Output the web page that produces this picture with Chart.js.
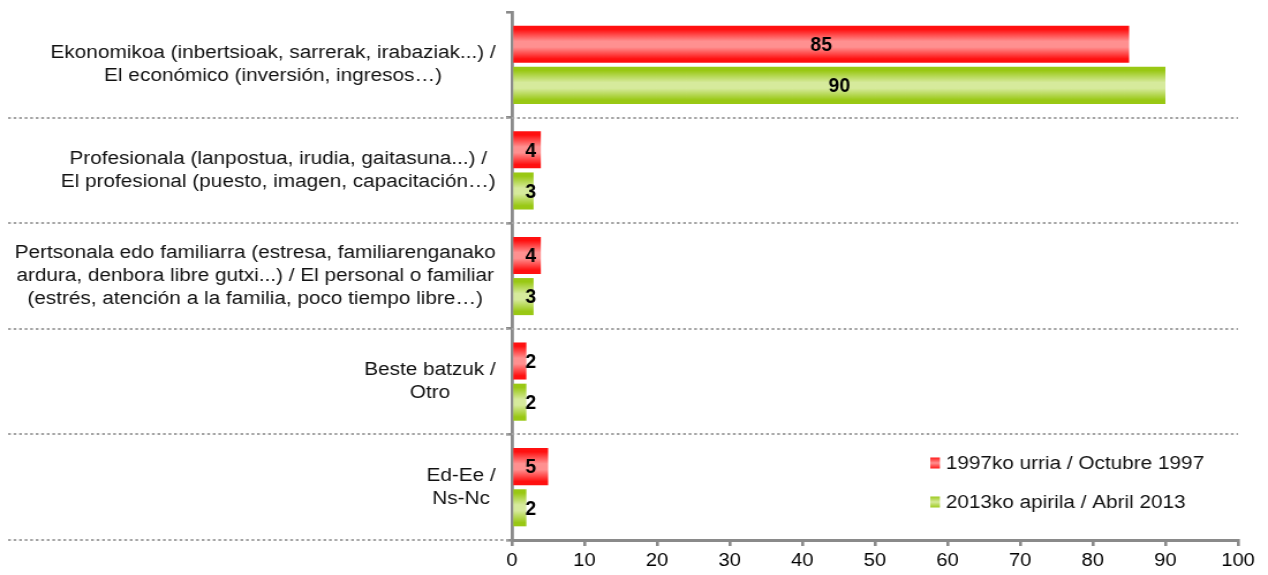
<!DOCTYPE html>
<html><head><meta charset="utf-8">
<script src="https://cdn.jsdelivr.net/npm/chart.js@4.4.0/dist/chart.umd.min.js"></script>
<style>
html,body{margin:0;padding:0;background:#fff;overflow:hidden}
</style>
</head><body>
<canvas id="c" width="1100" height="575" style="display:block;width:1268px;height:575px"></canvas>
<script>
// ---- data ----
const categories = [
  ["Ekonomikoa (inbertsioak, sarrerak, irabaziak...) /", "El económico (inversión, ingresos…)"],
  ["Profesionala (lanpostua, irudia, gaitasuna...) /", "El profesional (puesto, imagen, capacitación…)"],
  ["Pertsonala edo familiarra (estresa, familiarenganako", "ardura, denbora libre gutxi...) / El personal o familiar", "(estrés, atención a la familia, poco tiempo libre…)"],
  ["Beste batzuk /", "Otro"],
  ["Ed-Ee /", "Ns-Nc"]
];
const seriesNames = ["1997ko urria / Octubre 1997", "2013ko apirila / Abril 2013"];
const values1997 = [85, 4, 4, 2, 5];
const values2013 = [90, 3, 3, 2, 2];
const xMin = 0, xMax = 100, xStep = 10;

// ---- style ----
const FONT = "'Liberation Sans', Arial, Helvetica, sans-serif";
const CAT_PCT = 0.78, BAR_PCT = 0.9;
const PALETTE = [
  {dark: '#ff1010', light: '#ff9090'},
  {dark: '#99c814', light: '#d6ea9c'}
];
const AXIS_GRAY = '#8a8a8a';

function barGradient(ctx) {
  const chart = ctx.chart;
  const pal = PALETTE[ctx.datasetIndex] || PALETTE[0];
  const ys = chart.scales && chart.scales.y;
  if (!chart.chartArea || !ys || ctx.dataIndex === undefined || ys.ticks.length < 2) return pal.dark;
  const c = ys.getPixelForValue(ctx.dataIndex);
  const band = Math.abs(ys.getPixelForValue(1) - ys.getPixelForValue(0));
  const group = band * CAT_PCT;
  const slot = group / 2;
  const h = slot * BAR_PCT;
  const center = c - group / 2 + slot * (ctx.datasetIndex + 0.5);
  const top = center - h / 2;
  const g = chart.ctx.createLinearGradient(0, top, 0, top + h);
  g.addColorStop(0, pal.dark);
  g.addColorStop(0.1, pal.dark);
  g.addColorStop(0.42, pal.light);
  g.addColorStop(0.58, pal.light);
  g.addColorStop(0.9, pal.dark);
  g.addColorStop(1, pal.dark);
  return g;
}

const dottedLines = {
  id: 'dottedLines',
  beforeDatasetsDraw(chart) {
    const ys = chart.scales.y, area = chart.chartArea, c = chart.ctx;
    c.save();
    c.strokeStyle = '#a3a3a3';
    c.lineWidth = 2.2;
    c.setLineDash([2.4, 2.4]);
    for (let i = 0; i < categories.length; i++) {
      const y = Math.round(ys.getPixelForValue(i + 0.5)) ;
      const xEnd = i === categories.length - 1 ? area.left : area.right;
      c.beginPath();
      c.moveTo(7, y);
      c.lineTo(xEnd, y);
      c.stroke();
    }
    c.restore();
  }
};

const categoryLabels = {
  id: 'categoryLabels',
  afterDraw(chart) {
    const ys = chart.scales.y, area = chart.chartArea, c = chart.ctx;
    c.save();
    c.font = '18px ' + FONT;
    c.fillStyle = '#111';
    c.textAlign = 'center';
    c.textBaseline = 'middle';
    const right = area.left - 14;
    const lh = 23;
    categories.forEach((lines, i) => {
      const w = Math.max(...lines.map(l => c.measureText(l).width));
      const cx = right - w / 2;
      const cy = ys.getPixelForValue(i);
      const y0 = cy - (lines.length - 1) * lh / 2;
      lines.forEach((l, k) => c.fillText(l, cx, y0 + k * lh));
    });
    c.restore();
  }
};

const valueLabels = {
  id: 'valueLabels',
  afterDatasetsDraw(chart) {
    const c = chart.ctx;
    const sx = 0.8;
    c.save();
    c.font = 'bold 21px ' + FONT;
    c.fillStyle = '#000';
    c.textAlign = 'center';
    c.textBaseline = 'middle';
    chart.data.datasets.forEach((ds, di) => {
      const meta = chart.getDatasetMeta(di);
      meta.data.forEach((bar, i) => {
        const v = ds.data[i];
        const x = Math.max((bar.x + bar.base) / 2, bar.base + 15);
        c.save();
        c.translate(x, bar.y + 1);
        c.scale(sx, 1);
        c.fillText(String(v), 0, 0);
        c.restore();
      });
    });
    c.restore();
  }
};

const insideLegend = {
  id: 'insideLegend',
  afterDraw(chart) {
    const c = chart.ctx;
    c.save();
    c.font = '18px ' + FONT;
    c.fillStyle = '#111';
    c.textAlign = 'left';
    c.textBaseline = 'middle';
    const x0 = 807, ys = [463, 502];
    chart.data.datasets.forEach((ds, di) => {
      const pal = PALETTE[di];
      const y = ys[di];
      const g = c.createLinearGradient(0, y - 6, 0, y + 6);
      g.addColorStop(0, pal.dark); g.addColorStop(0.5, pal.light); g.addColorStop(1, pal.dark);
      c.fillStyle = g;
      c.fillRect(x0, y - 5.5, 8.4, 11);
      c.fillStyle = '#111';
      c.fillText(ds.label, x0 + 13.5, y + 1);
    });
    c.restore();
  }
};

new Chart(document.getElementById('c'), {
  type: 'bar',
  data: {
    labels: categories,
    datasets: [
      {label: seriesNames[0], data: values1997, backgroundColor: barGradient},
      {label: seriesNames[1], data: values2013, backgroundColor: barGradient}
    ]
  },
  options: {
    indexAxis: 'y',
    responsive: false,
    animation: false,
    devicePixelRatio: 1,
    categoryPercentage: CAT_PCT,
    barPercentage: BAR_PCT,
    layout: {padding: {top: 12, right: 26, left: 0, bottom: 0}},
    plugins: {legend: {display: false}, tooltip: {enabled: false}},
    scales: {
      x: {
        min: xMin, max: xMax,
        ticks: {stepSize: xStep, color: '#000', font: {family: FONT, size: 17.5}, padding: 5, maxRotation: 0},
        grid: {drawOnChartArea: false, drawTicks: true, tickLength: 6, tickColor: AXIS_GRAY, lineWidth: 2.6},
        border: {color: AXIS_GRAY, width: 3},
        afterFit(s) { s.height = 35; }
      },
      y: {
        ticks: {display: false},
        grid: {offset: true, drawOnChartArea: false, drawTicks: true, tickLength: 5, tickColor: AXIS_GRAY, lineWidth: 2.6},
        border: {color: AXIS_GRAY, width: 2.8},
        afterFit(s) { s.width = 444; }
      }
    }
  },
  plugins: [dottedLines, categoryLabels, valueLabels, insideLegend]
});
</script>
</body></html>
